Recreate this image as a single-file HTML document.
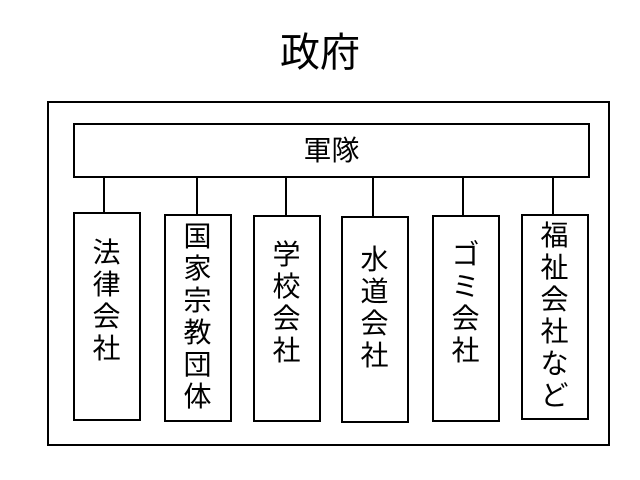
<!DOCTYPE html>
<html><head><meta charset="utf-8"><style>
body{margin:0;width:640px;height:480px;background:#fff;position:relative;font-family:"Liberation Sans","Noto Sans CJK JP",sans-serif;overflow:hidden}
.b{position:absolute;border:2px solid #000;box-sizing:border-box;background:#fff}
.l{position:absolute;width:2px;background:#000}
.t{position:absolute;font-size:28px;line-height:32px;text-align:center;width:67px}
</style></head><body>
<div style="position:absolute;left:0;width:640px;top:28px;text-align:center;font-size:40px;line-height:50px">政府</div>
<div class="b" style="left:47px;top:101px;width:563px;height:345px"></div>
<div class="l" style="left:103px;top:176px;height:37px"></div>
<div class="l" style="left:196px;top:176px;height:39px"></div>
<div class="l" style="left:285px;top:176px;height:40px"></div>
<div class="l" style="left:372px;top:176px;height:41px"></div>
<div class="l" style="left:462px;top:176px;height:40px"></div>
<div class="l" style="left:552px;top:176px;height:39px"></div>
<div class="b" style="left:73px;top:123px;width:517px;height:55px;text-align:center;font-size:28px;line-height:51px">軍隊</div>
<div class="b" style="left:73px;top:212px;width:68px;height:209px"></div>
<div class="b" style="left:164px;top:214px;width:68px;height:208px"></div>
<div class="b" style="left:253px;top:215px;width:68px;height:207px"></div>
<div class="b" style="left:341px;top:216px;width:68px;height:207px"></div>
<div class="b" style="left:432px;top:215px;width:68px;height:207px"></div>
<div class="b" style="left:521px;top:214px;width:68px;height:206px"></div>
<div class="t" style="left:73px;top:237px">法<br>律<br>会<br>社</div>
<div class="t" style="left:164px;top:221px">国<br>家<br>宗<br>教<br>団<br>体</div>
<div class="t" style="left:253px;top:239px">学<br>校<br>会<br>社</div>
<div class="t" style="left:341px;top:244px">水<br>道<br>会<br>社</div>
<div class="t" style="left:432px;top:239px">ゴ<br>ミ<br>会<br>社</div>
<div class="t" style="left:521px;top:220px">福<br>祉<br>会<br>社<br>な<br>ど</div>
</body></html>
